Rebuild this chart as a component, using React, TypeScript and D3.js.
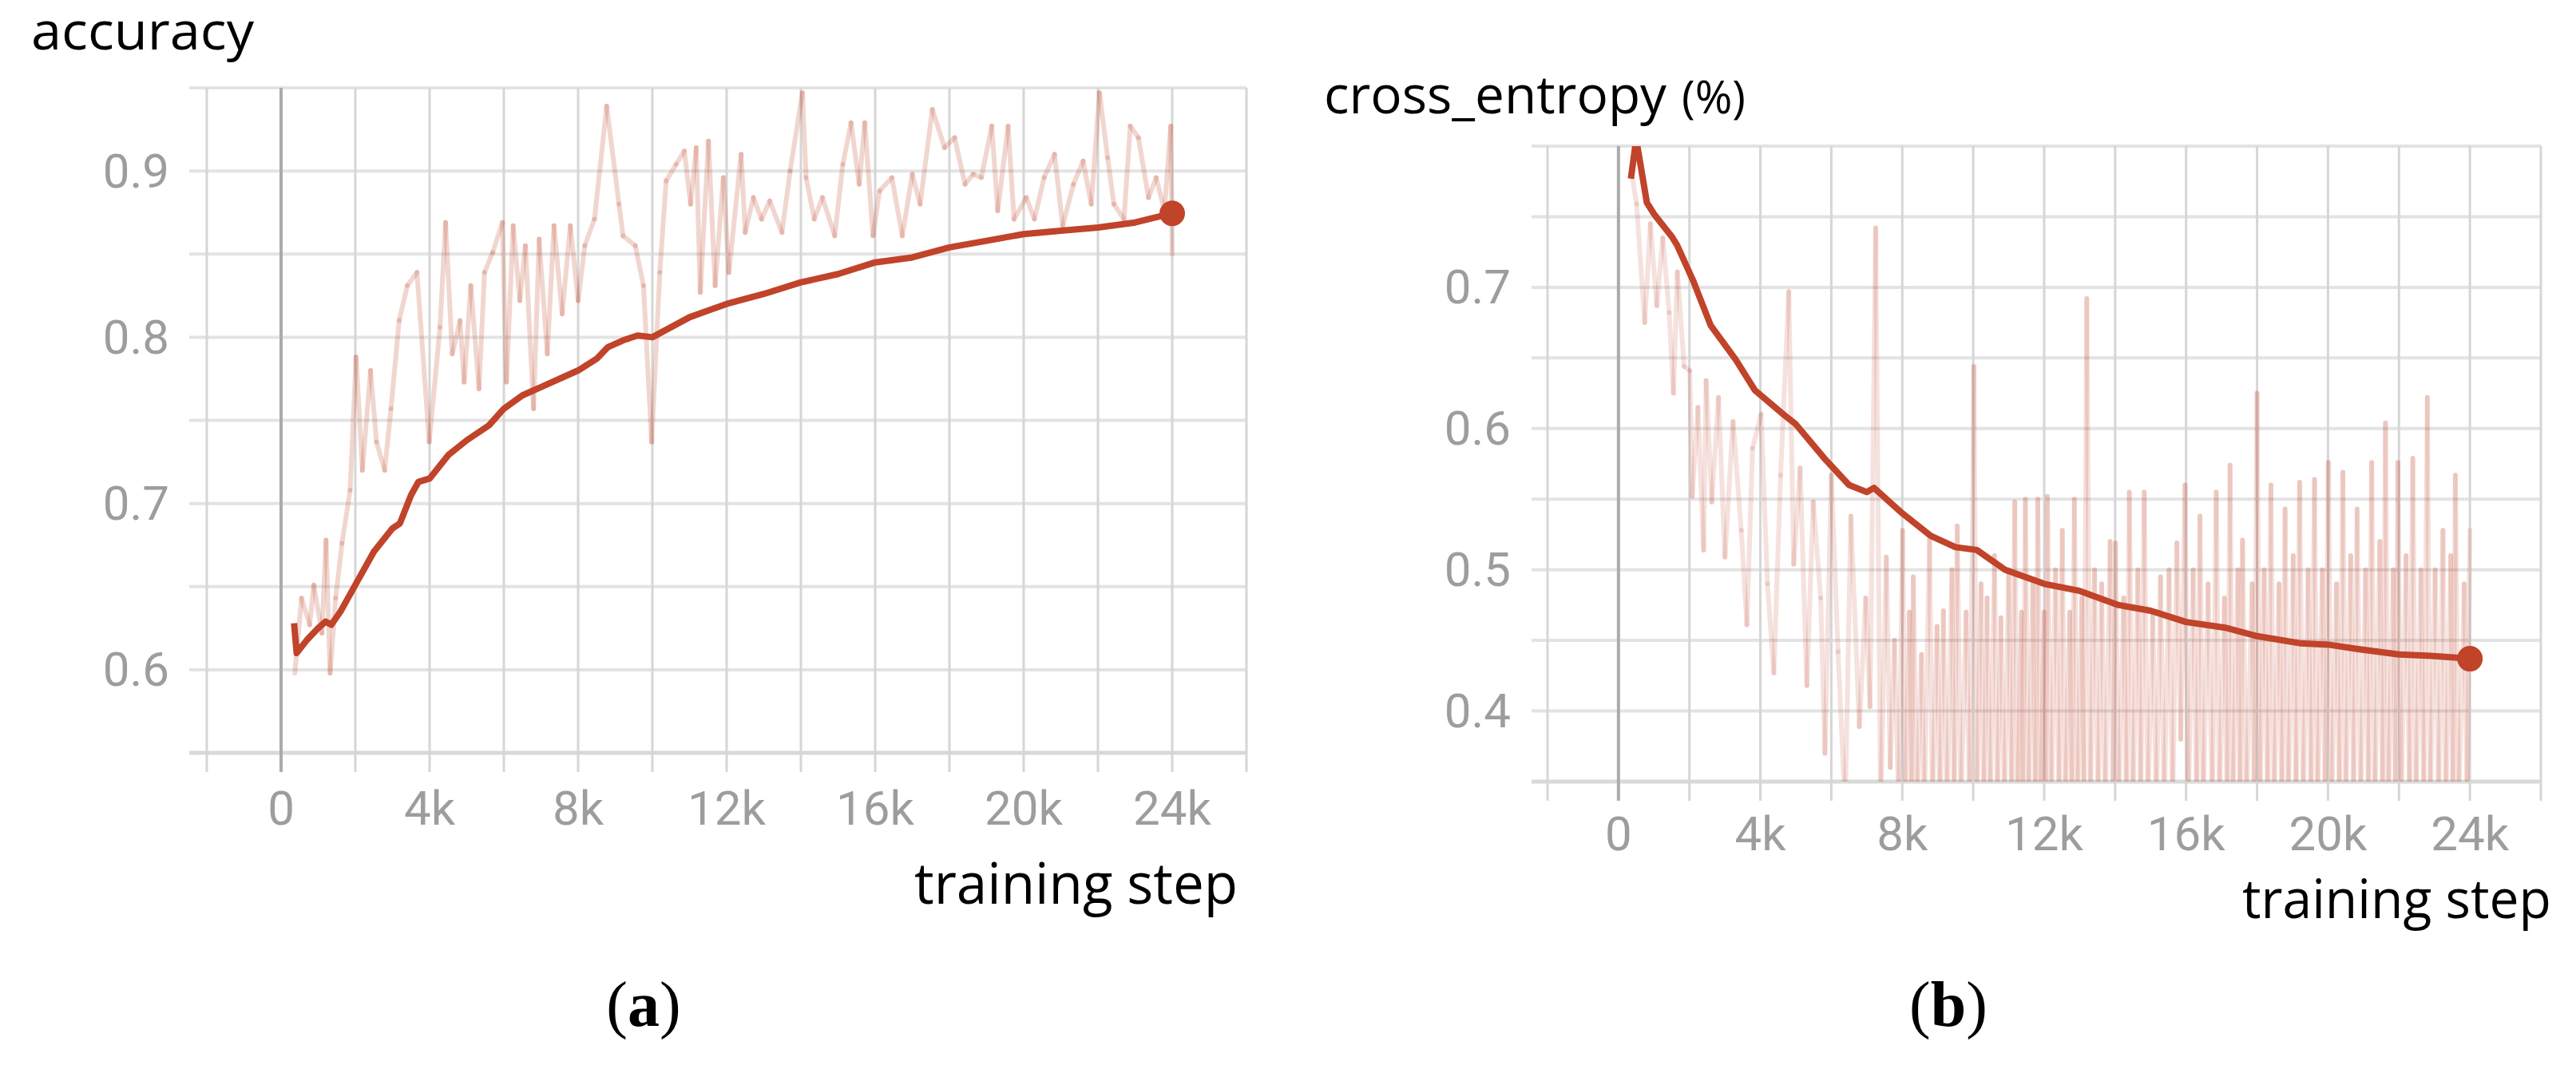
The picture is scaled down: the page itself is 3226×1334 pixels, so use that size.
import React from 'react';
import * as d3 from 'd3';

// ---------- data (steps in thousands) ----------
const xGridSteps = [-2, 0, 2, 4, 6, 8, 10, 12, 14, 16, 18, 20, 22, 24, 26];
const xLabelSteps = [0, 4, 8, 12, 16, 20, 24];
const xLabelTexts = ['0', '4k', '8k', '12k', '16k', '20k', '24k'];

const accYGrid = [0.55, 0.6, 0.65, 0.7, 0.75, 0.8, 0.85, 0.9, 0.95];
const accYLabels = [0.6, 0.7, 0.8, 0.9];
const ceYGrid = [0.35, 0.4, 0.45, 0.5, 0.55, 0.6, 0.65, 0.7, 0.75, 0.8];
const ceYLabels = [0.4, 0.5, 0.6, 0.7];

const accRawSteps = [0.37, 0.55, 0.77, 0.88, 1.1, 1.21, 1.32, 1.47, 1.64, 1.86, 2.02, 2.19, 2.41, 2.57, 2.79, 2.96, 3.18, 3.4, 3.66, 3.99, 4.28, 4.43, 4.61, 4.82, 4.93, 5.11, 5.33, 5.48, 5.7, 5.96, 6.07, 6.25, 6.43, 6.58, 6.8, 6.95, 7.17, 7.35, 7.57, 7.79, 8.0, 8.18, 8.44, 8.77, 9.1, 9.21, 9.54, 9.76, 9.98, 10.2, 10.37, 10.64, 10.86, 11.03, 11.18, 11.29, 11.51, 11.69, 11.91, 12.06, 12.39, 12.5, 12.72, 12.94, 13.16, 13.49, 13.71, 14.04, 14.14, 14.36, 14.58, 14.91, 15.13, 15.35, 15.57, 15.72, 15.94, 16.12, 16.45, 16.73, 17.0, 17.21, 17.54, 17.87, 18.14, 18.42, 18.64, 18.86, 19.14, 19.3, 19.58, 19.74, 20.07, 20.29, 20.55, 20.83, 21.05, 21.34, 21.6, 21.82, 22.04, 22.26, 22.43, 22.7, 22.87, 23.09, 23.36, 23.57, 23.79, 23.96, 24.0];
const accRawValues = [0.598, 0.643, 0.627, 0.651, 0.622, 0.678, 0.598, 0.643, 0.676, 0.708, 0.788, 0.72, 0.78, 0.737, 0.72, 0.757, 0.81, 0.831, 0.839, 0.737, 0.806, 0.869, 0.79, 0.81, 0.773, 0.831, 0.769, 0.839, 0.851, 0.869, 0.773, 0.867, 0.822, 0.855, 0.757, 0.859, 0.79, 0.867, 0.814, 0.867, 0.822, 0.855, 0.871, 0.939, 0.88, 0.861, 0.855, 0.831, 0.737, 0.839, 0.894, 0.904, 0.912, 0.88, 0.914, 0.827, 0.918, 0.831, 0.896, 0.839, 0.91, 0.863, 0.884, 0.871, 0.882, 0.863, 0.9, 0.947, 0.896, 0.871, 0.884, 0.861, 0.904, 0.929, 0.892, 0.929, 0.861, 0.888, 0.896, 0.861, 0.898, 0.88, 0.937, 0.914, 0.92, 0.892, 0.898, 0.896, 0.927, 0.876, 0.927, 0.871, 0.884, 0.871, 0.896, 0.91, 0.867, 0.892, 0.906, 0.88, 0.947, 0.908, 0.88, 0.871, 0.927, 0.92, 0.884, 0.896, 0.876, 0.927, 0.85];

const accSmoothSteps = [0.35, 0.42, 0.7, 1.0, 1.2, 1.35, 1.6, 2.0, 2.5, 3.0, 3.2, 3.5, 3.7, 4.0, 4.5, 5.0, 5.6, 6.0, 6.5, 7.0, 8.0, 8.5, 8.8, 9.2, 9.6, 10.0, 10.5, 11.0, 11.5, 12.0, 13.0, 14.0, 15.0, 16.0, 17.0, 18.0, 19.0, 20.0, 21.0, 22.0, 23.0, 24.0];
const accSmoothValues = [0.628, 0.61, 0.618, 0.625, 0.629, 0.627, 0.635, 0.651, 0.671, 0.685, 0.688, 0.705, 0.713, 0.715, 0.729, 0.738, 0.747, 0.757, 0.765, 0.77, 0.78, 0.787, 0.794, 0.798, 0.801, 0.8, 0.806, 0.812, 0.816, 0.82, 0.826, 0.833, 0.838, 0.845, 0.848, 0.854, 0.858, 0.862, 0.864, 0.866, 0.869, 0.8745];

const ceRawSteps = [0.39, 0.51, 0.74, 0.9, 1.08, 1.25, 1.43, 1.55, 1.66, 1.85, 2.01, 2.08, 2.24, 2.4, 2.47, 2.63, 2.82, 3.0, 3.23, 3.46, 3.62, 3.78, 4.02, 4.2, 4.38, 4.57, 4.8, 4.94, 5.12, 5.31, 5.49, 5.7, 5.82, 6.0, 6.19, 6.39, 6.55, 6.79, 6.97, 7.09, 7.25,
  7.39, 7.55, 7.66, 7.78, 7.9, 8.01, 8.08, 8.2, 8.26, 8.31, 8.42, 8.54, 8.62, 8.77, 8.85, 8.98, 9.06, 9.16, 9.26, 9.4, 9.46, 9.55, 9.65, 9.8, 9.9, 10.02, 10.1, 10.22, 10.3, 10.39, 10.48, 10.6, 10.68, 10.78, 10.88, 11.0, 11.08, 11.17, 11.25, 11.36, 11.4, 11.47, 11.56, 11.68, 11.75, 11.82, 11.9, 12.0, 12.04, 12.09, 12.2, 12.32, 12.42, 12.51, 12.6, 12.72, 12.78, 12.85, 12.94, 13.06, 13.12, 13.2, 13.3, 13.42, 13.52, 13.62, 13.72, 13.86, 13.94, 14.01, 14.1, 14.24, 14.32, 14.4, 14.5, 14.64, 14.72, 14.82, 14.92, 15.06, 15.16, 15.28, 15.38, 15.52, 15.62, 15.74, 15.85, 15.97, 16.06, 16.2, 16.3, 16.39, 16.48, 16.62, 16.74, 16.85, 16.94, 17.08, 17.16, 17.24, 17.32, 17.46, 17.52, 17.59, 17.7, 17.86, 17.92, 18.0, 18.08, 18.2, 18.3, 18.39, 18.48, 18.62, 18.7, 18.79, 18.88, 19.02, 19.1, 19.2, 19.3, 19.44, 19.52, 19.62, 19.7, 19.84, 19.92, 20.01, 20.1, 20.24, 20.32, 20.42, 20.5, 20.64, 20.72, 20.82, 20.92, 21.06, 21.14, 21.23, 21.32, 21.46, 21.54, 21.62, 21.7, 21.84, 21.9, 21.97, 22.06, 22.2, 22.3, 22.39, 22.48, 22.62, 22.7, 22.8, 22.88, 23.02, 23.12, 23.24, 23.32, 23.46, 23.52, 23.59, 23.68, 23.84, 23.92, 24.0];
const ceRawValues = [0.778, 0.759, 0.675, 0.745, 0.687, 0.735, 0.682, 0.625, 0.711, 0.644, 0.641, 0.552, 0.615, 0.514, 0.634, 0.548, 0.622, 0.509, 0.605, 0.528, 0.461, 0.586, 0.61, 0.49, 0.427, 0.567, 0.697, 0.504, 0.572, 0.418, 0.548, 0.48, 0.37, 0.567, 0.442, 0.33, 0.538, 0.389, 0.48, 0.403, 0.742,
  0.33, 0.509, 0.36, 0.45, 0.33, 0.528, 0.33, 0.47, 0.34, 0.495, 0.33, 0.44, 0.33, 0.524, 0.33, 0.46, 0.33, 0.471, 0.33, 0.5, 0.33, 0.531, 0.33, 0.47, 0.33, 0.644, 0.33, 0.49, 0.33, 0.48, 0.33, 0.51, 0.33, 0.466, 0.33, 0.5, 0.33, 0.548, 0.33, 0.47, 0.33, 0.55, 0.33, 0.49, 0.33, 0.55, 0.33, 0.47, 0.33, 0.552, 0.33, 0.5, 0.33, 0.528, 0.33, 0.47, 0.33, 0.55, 0.33, 0.48, 0.33, 0.692, 0.33, 0.5, 0.33, 0.49, 0.33, 0.52, 0.33, 0.519, 0.33, 0.48, 0.33, 0.555, 0.33, 0.5, 0.33, 0.555, 0.33, 0.47, 0.33, 0.495, 0.33, 0.5, 0.33, 0.519, 0.38, 0.56, 0.33, 0.5, 0.33, 0.538, 0.33, 0.49, 0.33, 0.555, 0.33, 0.48, 0.33, 0.574, 0.33, 0.5, 0.33, 0.521, 0.33, 0.49, 0.33, 0.625, 0.33, 0.5, 0.33, 0.56, 0.33, 0.49, 0.33, 0.543, 0.33, 0.51, 0.33, 0.562, 0.33, 0.5, 0.33, 0.564, 0.33, 0.5, 0.33, 0.576, 0.33, 0.49, 0.33, 0.569, 0.33, 0.51, 0.33, 0.543, 0.33, 0.5, 0.33, 0.576, 0.33, 0.52, 0.33, 0.604, 0.33, 0.5, 0.33, 0.576, 0.33, 0.51, 0.33, 0.579, 0.33, 0.5, 0.33, 0.622, 0.33, 0.5, 0.33, 0.528, 0.33, 0.51, 0.33, 0.567, 0.33, 0.49, 0.33, 0.528];

const ceSmoothSteps = [0.35, 0.5, 0.8, 1.0, 1.5, 1.65, 2.1, 2.6, 3.3, 3.85, 4.65, 5.0, 5.8, 6.5, 7.0, 7.2, 8.0, 8.8, 9.5, 10.1, 10.9, 12.0, 13.0, 14.1, 15.0, 16.0, 17.1, 18.0, 19.2, 20.0, 20.8, 22.0, 22.9, 24.0];
const ceSmoothValues = [0.777, 0.805, 0.76, 0.752, 0.736, 0.73, 0.705, 0.673, 0.649, 0.627, 0.61, 0.603, 0.579, 0.56, 0.555, 0.558, 0.54, 0.524, 0.516, 0.514, 0.5, 0.49, 0.485, 0.475, 0.471, 0.463, 0.459, 0.453, 0.448, 0.447, 0.444, 0.44, 0.439, 0.437];

// ---------- styling ----------
const LINE = '#c0432a';
const LABEL_GRAY = '#9d9d9d';
const TITLE_FONT = '"Open Sans", "Noto Sans", sans-serif';
const TICK_FONT = 'Roboto, "Noto Sans", sans-serif';
const CAP_FONT = '"Liberation Serif", "DejaVu Serif", serif';

type PanelProps = {
  id: string;
  xRange: [number, number];
  yDomain: [number, number];
  yRange: [number, number];
  gridLeft: number;
  yGrid: number[];
  yLabels: number[];
  yLabelRight: number;
  xLabelY: number;
  rawSteps: number[];
  rawValues: number[];
  rawOpacity: number;
  smoothSteps: number[];
  smoothValues: number[];
  title: string;
  titleX: number;
  titleY: number;
  titleLen: number;
  titleSize: number;
  unit?: string;
  unitX?: number;
  unitLen?: number;
  axisTitleX: number;
  axisTitleY: number;
  axisTitleLen: number;
  axisTitleSize: number;
  caption: string;
  captionX: number;
};

function Panel(p: PanelProps) {
  const x = d3.scaleLinear().domain([-2, 26]).range(p.xRange);
  const y = d3.scaleLinear().domain(p.yDomain).range(p.yRange);
  const top = p.yRange[1];
  const bottom = p.yRange[0];
  const right = p.xRange[1];
  const line = d3
    .line<[number, number]>()
    .x((d) => x(d[0]))
    .y((d) => y(d[1]));
  const raw: [number, number][] = p.rawSteps.map((s, i) => [s, p.rawValues[i]]);
  const smooth: [number, number][] = p.smoothSteps.map((s, i) => [s, p.smoothValues[i]]);
  const last = smooth[smooth.length - 1];
  const clipId = 'clip-' + p.id;
  return (
    <g>
      <defs>
        <clipPath id={clipId}>
          <rect x={p.xRange[0]} y={top} width={right - p.xRange[0]} height={bottom - top} />
        </clipPath>
      </defs>
      {p.yGrid.map((v) => (
        <line
          key={'h' + v}
          x1={p.gridLeft}
          x2={right}
          y1={y(v)}
          y2={y(v)}
          stroke={v === p.yDomain[0] ? '#d9d9d9' : '#e3e3e3'}
          strokeWidth={v === p.yDomain[0] ? 5 : 4}
        />
      ))}
      {xGridSteps.map((s) => (
        <line
          key={'v' + s}
          x1={x(s)}
          x2={x(s)}
          y1={top}
          y2={bottom + 24}
          stroke={s === 0 ? '#ababab' : '#d6d6d6'}
          strokeWidth={s === 0 ? 4 : 3}
        />
      ))}
      {p.yLabels.map((v) => (
        <text
          key={'yl' + v}
          x={p.yLabelRight}
          y={y(v)}
          textAnchor="end"
          dominantBaseline="central"
          fontFamily={TICK_FONT}
          fontSize={60}
          fill={LABEL_GRAY}
        >
          {v.toFixed(1)}
        </text>
      ))}
      {xLabelSteps.map((s, i) => (
        <text
          key={'xl' + s}
          x={x(s)}
          y={p.xLabelY}
          textAnchor="middle"
          dominantBaseline="central"
          fontFamily={TICK_FONT}
          fontSize={60}
          fill={LABEL_GRAY}
        >
          {xLabelTexts[i]}
        </text>
      ))}
      <g clipPath={`url(#${clipId})`}>
        {raw.slice(1).map((d, i) => (
          <path
            key={'r' + i}
            d={line([raw[i], d]) || ''}
            fill="none"
            stroke={LINE}
            strokeOpacity={p.rawOpacity}
            strokeWidth={6}
            strokeLinecap="round"
          />
        ))}
        <path
          d={line(smooth) || ''}
          fill="none"
          stroke={LINE}
          strokeWidth={8}
          strokeLinejoin="round"
          strokeLinecap="butt"
        />
      </g>
      <circle cx={x(last[0])} cy={y(last[1])} r={16} fill={LINE} />
      <text
        x={p.titleX}
        y={p.titleY}
        fontFamily={TITLE_FONT}
        fontSize={p.titleSize}
        fill="#000"
        textLength={p.titleLen}
        lengthAdjust="spacingAndGlyphs"
      >
        {p.title}
      </text>
      {p.unit ? (
        <text
          x={p.unitX}
          y={p.titleY}
          fontFamily={TITLE_FONT}
          fontSize={p.titleSize * 0.85}
          fill="#000"
          textLength={p.unitLen}
          lengthAdjust="spacingAndGlyphs"
        >
          {p.unit}
        </text>
      ) : null}
      <text
        x={p.axisTitleX}
        y={p.axisTitleY}
        fontFamily={TITLE_FONT}
        fontSize={p.axisTitleSize}
        fill="#000"
        textLength={p.axisTitleLen}
        lengthAdjust="spacingAndGlyphs"
      >
        training step
      </text>
      <text x={p.captionX} y={1285} textAnchor="middle" fontFamily={CAP_FONT} fontSize={80} fill="#000">
        (<tspan fontWeight="bold">{p.caption}</tspan>)
      </text>
    </g>
  );
}

export default function App() {
  return (
    <svg
      width={3226}
      height={1334}
      viewBox="0 0 3226 1334"
      style={{ position: 'absolute', left: 0, top: 0, background: '#fff' }}
    >
      <rect x={0} y={0} width={3226} height={1334} fill="#fff" />
      <Panel
        id="a"
        xRange={[259, 1561]}
        yDomain={[0.55, 0.95]}
        yRange={[943, 110]}
        gridLeft={237}
        yGrid={accYGrid}
        yLabels={accYLabels}
        yLabelRight={212}
        xLabelY={1012}
        rawSteps={accRawSteps}
        rawValues={accRawValues}
        rawOpacity={0.22}
        smoothSteps={accSmoothSteps}
        smoothValues={accSmoothValues}
        title="accuracy"
        titleX={39}
        titleY={62}
        titleLen={279}
        titleSize={66}
        axisTitleX={1145}
        axisTitleY={1132}
        axisTitleLen={405}
        axisTitleSize={72}
        caption="a"
        captionX={806}
      />
      <Panel
        id="b"
        xRange={[1938, 3182]}
        yDomain={[0.35, 0.8]}
        yRange={[979, 183]}
        gridLeft={1918}
        yGrid={ceYGrid}
        yLabels={ceYLabels}
        yLabelRight={1892}
        xLabelY={1044}
        rawSteps={ceRawSteps}
        rawValues={ceRawValues}
        rawOpacity={0.16}
        smoothSteps={ceSmoothSteps}
        smoothValues={ceSmoothValues}
        title="cross_entropy"
        titleX={1658}
        titleY={142}
        titleLen={429}
        titleSize={66}
        unit="(%)"
        unitX={2106}
        unitLen={80}
        axisTitleX={2808}
        axisTitleY={1150}
        axisTitleLen={387}
        axisTitleSize={68}
        caption="b"
        captionX={2440}
      />
    </svg>
  );
}
